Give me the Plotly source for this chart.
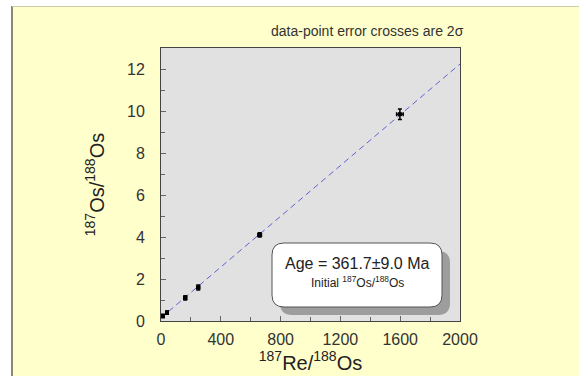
import plotly.graph_objects as go

re_os = [13, 40, 162, 249, 660, 1598]
os_os = [0.24, 0.40, 1.10, 1.60, 4.10, 9.85]
x_err = [8, 8, 10, 10, 12, 22]
y_err = [0.08, 0.08, 0.10, 0.12, 0.10, 0.25]

slope = 0.006044
intercept = 0.15
line_x = [0, 2000]
line_y = [intercept + slope * v for v in line_x]

fig = go.Figure()
fig.add_trace(go.Scatter(x=line_x, y=line_y, mode="lines",
                         line=dict(color="#6060d8", width=1, dash="6px,4px"),
                         hoverinfo="skip", showlegend=False))
fig.add_trace(go.Scatter(x=re_os, y=os_os, mode="markers",
                         marker=dict(symbol="square", size=4, color="black"),
                         error_x=dict(type="data", array=x_err, color="black", thickness=1.5, width=2),
                         error_y=dict(type="data", array=y_err, color="black", thickness=1.5, width=2),
                         showlegend=False))

L, R, T, B = 161, 460, 48, 321
W, H = 579, 376
pw, ph = R - L, B - T

def px(x): return (x - L) / pw
def py(y): return (B - y) / ph

def rrect(x0, y0, x1, y1, r):
    rx, ry = r / pw, r / ph
    X0, X1, Y0, Y1 = px(x0), px(x1), py(y1), py(y0)
    return (f"M {X0+rx},{Y1} L {X1-rx},{Y1} Q {X1},{Y1} {X1},{Y1-ry} "
            f"L {X1},{Y0+ry} Q {X1},{Y0} {X1-rx},{Y0} L {X0+rx},{Y0} "
            f"Q {X0},{Y0} {X0},{Y0+ry} L {X0},{Y1-ry} Q {X0},{Y1} {X0+rx},{Y1} Z")

shapes = [
    dict(type="rect", xref="paper", yref="paper", layer="below",
         x0=px(-5), x1=px(11), y0=py(H + 5), y1=py(-5),
         fillcolor="white", line=dict(width=0)),
    dict(type="rect", xref="paper", yref="paper", layer="below",
         x0=px(-5), x1=px(W + 5), y0=py(6), y1=py(-5),
         fillcolor="white", line=dict(width=0)),
    dict(type="line", xref="paper", yref="paper", layer="below",
         x0=px(12), x1=px(12), y0=py(H + 5), y1=py(6),
         line=dict(color="#888877", width=2)),
    dict(type="line", xref="paper", yref="paper", layer="below",
         x0=px(12), x1=px(W + 5), y0=py(6.5), y1=py(6.5),
         line=dict(color="#ccccaa", width=1)),
    dict(type="path", xref="paper", yref="paper", path=rrect(280, 251, 450, 315, 12),
         fillcolor="rgba(140,140,140,0.8)", line=dict(width=0)),
    dict(type="path", xref="paper", yref="paper", path=rrect(272, 243, 442, 307, 12),
         fillcolor="white", line=dict(color="#555555", width=1)),
]

fig.update_layout(
    width=W, height=H,
    margin=dict(l=L, r=W - R, t=T, b=H - B),
    paper_bgcolor="#ffffcc",
    plot_bgcolor="#e1e1e1",
    font=dict(family="Liberation Sans, Arial, sans-serif", color="#222222"),
    shapes=shapes,
    xaxis=dict(range=[0, 2000], tickvals=[0, 400, 800, 1200, 1600, 2000],
               ticks="inside", ticklen=5, tickcolor="#666666", ticklabelstandoff=4,
               minor=dict(dtick=200, ticks="inside", ticklen=4, tickcolor="#666666"),
               showgrid=False, zeroline=False, showline=True, linecolor="#444444",
               linewidth=1, mirror=True, tickfont=dict(size=16, color="#333333"),
               title=dict(text="<sup>187</sup>Re/<sup>188</sup>Os", font=dict(size=20), standoff=0)),
    yaxis=dict(range=[0, 13], tickvals=[0, 2, 4, 6, 8, 10, 12],
               ticks="inside", ticklen=5, tickcolor="#666666", ticklabelstandoff=12,
               minor=dict(dtick=1, ticks="inside", ticklen=4, tickcolor="#666666"),
               showgrid=False, zeroline=False, showline=True, linecolor="#444444",
               linewidth=1, mirror=True, tickfont=dict(size=16, color="#333333"),
               title=dict(text="<sup>187</sup>Os/<sup>188</sup>Os", font=dict(size=20), standoff=17)),
    annotations=[
        dict(text="data-point error crosses are 2σ", xref="paper", yref="paper",
             x=px(367), y=py(31), xanchor="center", yanchor="middle",
             showarrow=False, font=dict(size=14, color="#333333")),
        dict(text="Age = 361.7±9.0 Ma", xref="paper", yref="paper",
             x=px(357), y=py(263), xanchor="center", yanchor="middle",
             showarrow=False, font=dict(size=16)),
        dict(text="Initial <sup>187</sup>Os/<sup>188</sup>Os", xref="paper", yref="paper",
             x=px(357), y=py(282), xanchor="center", yanchor="middle",
             showarrow=False, font=dict(size=12)),
    ],
)

fig.write_html("out.html")
